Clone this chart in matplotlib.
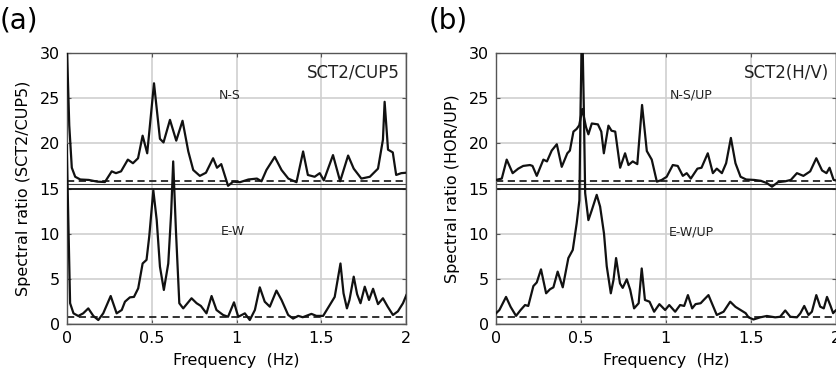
import matplotlib
matplotlib.use("Agg")
import matplotlib.pyplot as plt

plt.rcParams['font.family'] = ['DejaVu Sans']

# offset of the N-S curves and the dashed reference level
offset = 15.0
threshold = 0.8

# panel (a): SCT2/CUP5
freq_a_ns = [0.0, 0.015, 0.03, 0.05, 0.08, 0.13, 0.18, 0.225, 0.265, 0.29,
             0.32, 0.36, 0.39, 0.42, 0.447, 0.474, 0.514, 0.549, 0.57, 0.608,
             0.645, 0.682, 0.716, 0.745, 0.784, 0.82, 0.862, 0.885, 0.91, 0.95,
             0.98, 1.02, 1.07, 1.12, 1.147, 1.176, 1.225, 1.265, 1.305, 1.353,
             1.392, 1.42, 1.46, 1.49, 1.514, 1.568, 1.61, 1.657, 1.69, 1.735,
             1.785, 1.833, 1.862, 1.872, 1.892, 1.92, 1.94, 1.97, 2.0]
ratio_a_ns = [16.5, 7.0, 2.3, 1.3, 1.0, 0.95, 0.76, 0.72, 1.9, 1.7,
              1.9, 3.2, 2.8, 3.35, 5.85, 3.9, 11.65, 5.5, 5.1, 7.6,
              5.3, 7.5, 4.1, 2.05, 1.4, 1.75, 3.35, 2.3, 2.7, 0.3,
              0.76, 0.7, 1.0, 1.1, 0.8, 2.05, 3.5, 2.05, 1.1, 0.7,
              4.1, 1.5, 1.3, 1.7, 0.9, 3.7, 0.8, 3.65, 2.2, 1.1,
              1.3, 2.2, 5.4, 9.6, 4.3, 4.0, 1.5, 1.7, 1.75]

freq_a_ew = [0.0, 0.02, 0.04, 0.068, 0.097, 0.127, 0.157, 0.186, 0.215, 0.259,
             0.294, 0.324, 0.343, 0.372, 0.396, 0.421, 0.447, 0.47, 0.486, 0.51,
             0.53, 0.549, 0.572, 0.598, 0.615, 0.627, 0.643, 0.663, 0.686, 0.735,
             0.765, 0.79, 0.823, 0.853, 0.882, 0.921, 0.95, 0.985, 1.01, 1.049,
             1.078, 1.108, 1.137, 1.166, 1.196, 1.235, 1.265, 1.304, 1.333, 1.363,
             1.39, 1.441, 1.47, 1.51, 1.549, 1.578, 1.612, 1.63, 1.65, 1.665,
             1.69, 1.71, 1.73, 1.755, 1.78, 1.804, 1.833, 1.862, 1.89, 1.921,
             1.95, 1.98, 2.0]
ratio_a_ew = [19.8, 2.3, 1.18, 0.89, 1.18, 1.73, 0.89, 0.44, 1.18, 3.1,
              1.18, 1.55, 2.47, 2.95, 3.0, 3.95, 6.7, 7.1, 9.7, 14.8,
              11.5, 6.35, 3.77, 6.7, 12.3, 18.0, 10.4, 2.3, 1.73, 2.85,
              2.3, 2.0, 1.18, 3.1, 1.55, 1.0, 0.8, 2.4, 0.8, 1.18,
              0.44, 1.55, 4.06, 2.47, 1.92, 3.7, 2.66, 1.0, 0.6, 0.9,
              0.75, 1.12, 0.9, 0.9, 2.1, 3.0, 6.7, 3.4, 1.73, 2.66,
              5.24, 3.3, 2.3, 4.13, 2.66, 3.9, 2.2, 2.85, 1.92, 1.0,
              1.4, 2.3, 3.2]

# panel (b): SCT2 H/V
freq_b_ns = [0.0, 0.034, 0.063, 0.098, 0.131, 0.16, 0.2, 0.215, 0.24, 0.279,
             0.3, 0.328, 0.358, 0.387, 0.42, 0.435, 0.456, 0.475, 0.49, 0.508,
             0.53, 0.544, 0.564, 0.6, 0.62, 0.635, 0.662, 0.68, 0.702, 0.731,
             0.76, 0.78, 0.805, 0.832, 0.86, 0.888, 0.917, 0.947, 0.976, 1.005,
             1.041, 1.07, 1.1, 1.123, 1.147, 1.186, 1.21, 1.247, 1.277, 1.3,
             1.33, 1.355, 1.383, 1.41, 1.44, 1.473, 1.52, 1.56, 1.595, 1.625,
             1.66, 1.703, 1.736, 1.772, 1.81, 1.85, 1.886, 1.92, 1.946, 1.964,
             1.988, 2.0]
ratio_b_ns = [0.95, 1.1, 3.2, 1.7, 2.2, 2.5, 2.6, 2.5, 1.4, 3.2,
              3.0, 4.2, 4.9, 2.4, 3.9, 4.2, 6.3, 6.6, 7.0, 8.8,
              6.8, 6.0, 7.2, 7.1, 6.3, 3.9, 6.96, 6.4, 6.3, 2.3,
              3.9, 2.6, 3.0, 2.7, 9.25, 4.15, 3.2, 0.76, 0.95, 1.3,
              2.6, 2.5, 1.4, 1.7, 1.1, 2.2, 2.3, 3.9, 1.7, 2.2,
              1.7, 2.8, 5.6, 2.8, 1.3, 1.0, 0.95, 0.85, 0.6, 0.2,
              0.7, 0.8, 0.95, 1.7, 1.4, 1.9, 3.35, 2.0, 1.7, 2.3,
              0.95, 0.9]

freq_b_ew = [0.0, 0.02, 0.059, 0.086, 0.118, 0.145, 0.171, 0.19, 0.22, 0.24,
             0.265, 0.295, 0.318, 0.338, 0.363, 0.393, 0.426, 0.452, 0.475, 0.491,
             0.498, 0.507, 0.517, 0.525, 0.544, 0.564, 0.593, 0.613, 0.636, 0.652,
             0.676, 0.692, 0.707, 0.73, 0.746, 0.77, 0.79, 0.813, 0.84, 0.858,
             0.877, 0.904, 0.931, 0.962, 0.996, 1.02, 1.055, 1.084, 1.108, 1.13,
             1.155, 1.175, 1.205, 1.225, 1.251, 1.28, 1.3, 1.34, 1.379, 1.41,
             1.44, 1.47, 1.487, 1.516, 1.556, 1.595, 1.644, 1.673, 1.703, 1.733,
             1.772, 1.792, 1.815, 1.84, 1.86, 1.886, 1.909, 1.93, 1.949, 1.97,
             1.985, 2.0]
ratio_b_ew = [1.18, 1.55, 3.0, 1.9, 0.9, 1.55, 2.1, 2.0, 4.2, 4.6,
              6.05, 3.4, 3.85, 4.06, 5.8, 4.06, 7.3, 8.2, 11.15, 13.7,
              24.0, 34.0, 24.0, 14.5, 11.5, 12.6, 14.3, 13.0, 10.0, 6.4,
              3.4, 4.9, 7.3, 4.5, 4.0, 4.95, 3.8, 1.73, 2.3, 6.15,
              2.66, 2.47, 1.36, 2.2, 1.55, 2.1, 1.36, 2.1, 2.0, 3.2,
              1.73, 2.2, 2.3, 2.7, 3.2, 1.9, 1.0, 1.36, 2.47, 1.9,
              1.55, 1.2, 0.74, 0.5, 0.74, 0.89, 0.74, 0.8, 1.5, 0.8,
              0.74, 1.18, 2.0, 1.0, 1.36, 3.2, 1.92, 1.73, 3.0, 2.0,
              1.2, 1.5]

xticks = [0, 0.5, 1, 1.5, 2]
xticklabels = ['0', '0.5', '1', '1.5', '2']
yticks = [0, 5, 10, 15, 20, 25, 30]

panels = [
    dict(tag='(a)', left=0.0797, ns=(freq_a_ns, ratio_a_ns), ew=(freq_a_ew, ratio_a_ew),
         title='SCT2/CUP5', ylabel='Spectral ratio (SCT2/CUP5)',
         ns_label='N-S', ns_pos=(0.96, 25.3), ew_label='E-W', ew_pos=(0.98, 10.2)),
    dict(tag='(b)', left=0.5926, ns=(freq_b_ns, ratio_b_ns), ew=(freq_b_ew, ratio_b_ew),
         title='SCT2(H/V)', ylabel='Spectral ratio (HOR/UP)',
         ns_label='N-S/UP', ns_pos=(1.15, 25.3), ew_label='E-W/UP', ew_pos=(1.15, 10.2)),
]

fig = plt.figure(figsize=(8.37, 3.79), dpi=100)

for p in panels:
    ax = fig.add_axes([p['left'], 0.1451, 0.4058, 0.7150])
    ax.set_xlim(0, 2)
    ax.set_ylim(0, 30)
    ax.set_xticks(xticks)
    ax.set_xticklabels(xticklabels)
    ax.set_yticks(yticks)
    ax.grid(True, color='#cfcfcf', lw=1.2)
    ax.set_axisbelow(True)
    ax.tick_params(direction='in', length=3, width=0.8, top=True, right=True,
                   labelsize=11.5, pad=5, color='#555555')
    for s in ax.spines.values():
        s.set_color('#555555')
        s.set_linewidth(1.0)

    ax.axhline(threshold, color='#222222', lw=1.3, ls=(0, (4, 2.5)), zorder=2)
    ax.axhline(offset + threshold, color='#222222', lw=1.3, ls=(0, (4, 2.5)), zorder=2)
    ax.axhline(offset, color='#111111', lw=1.3, zorder=2)
    ax.axhline(offset + 0.45, color='#444444', lw=0.8, zorder=2)

    f, r = p['ns']
    ax.plot(f, [v + offset for v in r], color='#111111', lw=1.6, zorder=3)
    f, r = p['ew']
    ax.plot(f, r, color='#111111', lw=1.6, zorder=3)

    ax.text(1.96, 27.8, p['title'], ha='right', va='center', fontsize=12, color='#222222')
    ax.text(*p['ns_pos'], p['ns_label'], ha='center', va='center', fontsize=9, color='#222222')
    ax.text(*p['ew_pos'], p['ew_label'], ha='center', va='center', fontsize=9, color='#222222')

    ax.set_xlabel('Frequency  (Hz)', fontsize=11.5, labelpad=5)
    ax.set_ylabel(p['ylabel'], fontsize=11.5, labelpad=6)

    fig.text(p['left'] - 0.08, 0.945, p['tag'], fontsize=20, ha='left', va='center')

fig.savefig('out.png', dpi=100)
